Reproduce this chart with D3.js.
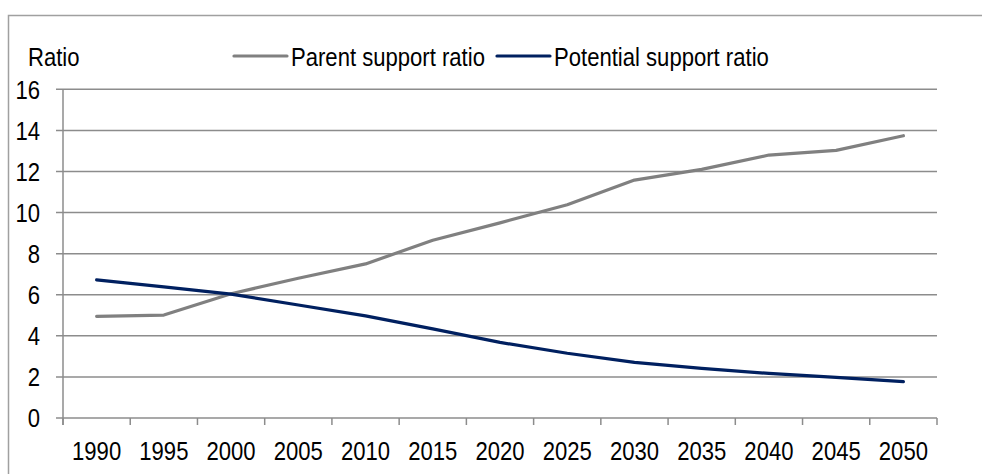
<!DOCTYPE html>
<html>
<head>
<meta charset="utf-8">
<script src="https://cdn.jsdelivr.net/npm/d3@7"></script>
<style>
  html, body { margin: 0; padding: 0; background: #fff; }
  svg text { font-family: "Liberation Sans", Arial, sans-serif; fill: #000; }
</style>
</head>
<body>
<svg id="chart" width="982" height="474"></svg>
<script>
const years = ["1990","1995","2000","2005","2010","2015","2020","2025","2030","2035","2040","2045","2050"];
const parentSupport = [4.95, 5.01, 6.05, 6.8, 7.5, 8.65, 9.5, 10.38, 11.58, 12.1, 12.8, 13.03, 13.74];
const potentialSupport = [6.72, 6.38, 6.03, 5.5, 4.97, 4.34, 3.68, 3.15, 2.71, 2.42, 2.17, 1.98, 1.77];
const yTicks = [0, 2, 4, 6, 8, 10, 12, 14, 16];
const seriesNames = ["Parent support ratio", "Potential support ratio"];
const seriesColors = ["#808080", "#002060"];

const svg = d3.select("#chart");
const pLeft = 63, pRight = 937, pTop = 89.3, pBottom = 418;
const fs = 26;
const narrow = 0.85; // emulate a narrow sans font
const tf = (tx, ty) => `translate(${tx},${ty}) scale(${narrow},1)`;

// outer border
svg.append("rect").attr("x", 8.5).attr("y", 15.5).attr("width", 1000).attr("height", 500)
  .attr("fill", "none").attr("stroke", "#a0a0a0").attr("stroke-width", 1.5);

const x = d3.scaleBand().domain(years).range([pLeft, pRight]).padding(0);
const y = d3.scaleLinear().domain([0, 16]).range([pBottom, pTop]);

// gridlines
svg.append("g").selectAll("line").data(yTicks).join("line")
  .attr("x1", pLeft - 7).attr("x2", pRight)
  .attr("y1", d => y(d)).attr("y2", d => y(d))
  .attr("stroke", "#8c8c8c").attr("stroke-width", 1.5);

// y axis line
svg.append("line").attr("x1", pLeft).attr("x2", pLeft).attr("y1", pTop).attr("y2", pBottom + 7)
  .attr("stroke", "#8c8c8c").attr("stroke-width", 1.5);

// y tick labels
svg.append("g").selectAll("text").data(yTicks).join("text")
  .attr("transform", d => tf(40, y(d))).attr("dy", "0.36em")
  .attr("text-anchor", "end").attr("font-size", fs).text(d => d);

// x ticks (between categories)
const xTickPos = years.map(d => x(d)).concat([pRight]);
svg.append("g").selectAll("line").data(xTickPos).join("line")
  .attr("x1", d => d).attr("x2", d => d).attr("y1", pBottom).attr("y2", pBottom + 7)
  .attr("stroke", "#8c8c8c").attr("stroke-width", 1.5);

// x labels
svg.append("g").selectAll("text").data(years).join("text")
  .attr("transform", d => tf(x(d) + x.bandwidth() / 2, 460))
  .attr("text-anchor", "middle").attr("font-size", fs).text(d => d);

// y axis title
svg.append("text").attr("transform", tf(28, 66)).attr("font-size", fs).text("Ratio");

// lines
const line = d3.line().x((d, i) => x(years[i]) + x.bandwidth() / 2).y(d => y(d));
[parentSupport, potentialSupport].forEach((s, i) => {
  svg.append("path").datum(s).attr("d", line).attr("fill", "none")
    .attr("stroke", seriesColors[i]).attr("stroke-width", 3.2)
    .attr("stroke-linejoin", "round").attr("stroke-linecap", "round");
});

// legend
const legendX = [234, 497];
seriesNames.forEach((n, i) => {
  const g = svg.append("g");
  g.append("line").attr("x1", legendX[i]).attr("x2", legendX[i] + 53).attr("y1", 56).attr("y2", 56)
    .attr("stroke", seriesColors[i]).attr("stroke-width", 3.2).attr("stroke-linecap", "round");
  g.append("text").attr("transform", tf(legendX[i] + 57, 65.5)).attr("font-size", fs).text(n);
});
</script>
</body>
</html>
